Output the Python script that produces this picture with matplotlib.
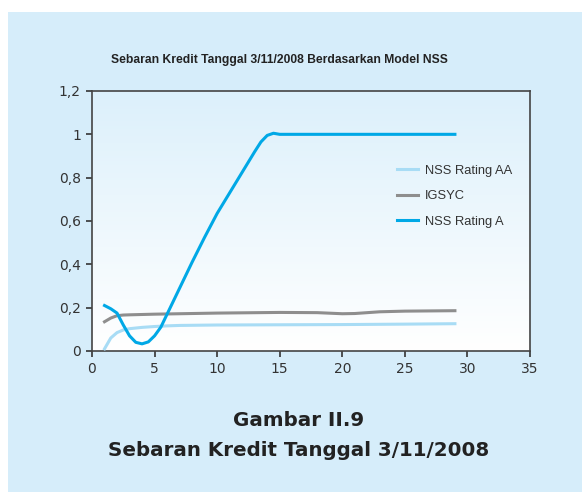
import matplotlib.pyplot as plt
import matplotlib.ticker as mticker
import numpy as np

# data
x_a = [1, 1.5, 2, 2.5, 3, 3.5, 4, 4.5, 5, 5.5, 6, 7, 8, 9, 10, 11, 12, 13, 13.5, 14, 14.5, 15, 20, 25, 29]
nss_a = [0.21, 0.195, 0.175, 0.12, 0.07, 0.04, 0.033, 0.042, 0.07, 0.11, 0.17, 0.29, 0.41, 0.525, 0.635, 0.73, 0.825, 0.92, 0.965, 0.995, 1.005, 1.0, 1.0, 1.0, 1.0]

x_aa = [1, 1.5, 2, 2.5, 3, 4, 5, 6, 7, 10, 15, 20, 25, 29]
nss_aa = [0.01, 0.06, 0.085, 0.097, 0.103, 0.109, 0.113, 0.116, 0.118, 0.12, 0.121, 0.122, 0.124, 0.126]

x_ig = [1, 1.5, 2, 2.5, 3, 5, 10, 15, 18, 20, 21, 23, 25, 29]
igsyc = [0.135, 0.152, 0.163, 0.166, 0.167, 0.17, 0.175, 0.178, 0.177, 0.172, 0.173, 0.181, 0.184, 0.186]

bg = '#d6edfa'
fig = plt.figure(figsize=(5.82, 4.92), dpi=100)
fig.patch.set_facecolor('white')
fig.patches.append(plt.Rectangle((8/582, 0), 1, 1 - 12/492, transform=fig.transFigure,
                                 facecolor=bg, edgecolor='none', zorder=-10))

ax = fig.add_axes([92/582, 1 - 351/492, 438/582, 260/492])
ax.set_facecolor('none')
# gradient background inside the axes: light blue on top, white at the bottom
grad = np.linspace(0, 1, 256).reshape(-1, 1)
ax.imshow(grad, extent=[0, 35, 0, 1.2], aspect='auto', origin='lower',
          cmap=plt.matplotlib.colors.LinearSegmentedColormap.from_list('g', ['#ffffff', '#dcf0fb']),
          zorder=0)

ax.plot(x_aa, nss_aa, color='#a8dcf5', lw=2.2, label='NSS Rating AA', zorder=3)
ax.plot(x_ig, igsyc, color='#8e8e8e', lw=2.2, label='IGSYC', zorder=3)
ax.plot(x_a, nss_a, color='#00a8e6', lw=2.2, label='NSS Rating A', zorder=4)

ax.set_xlim(0, 35)
ax.set_ylim(0, 1.2)
ax.set_xticks(range(0, 36, 5))
ax.set_yticks([0, 0.2, 0.4, 0.6, 0.8, 1.0, 1.2])
ax.yaxis.set_major_formatter(mticker.FuncFormatter(
    lambda v, p: '0' if v == 0 else ('1' if abs(v - 1) < 1e-9 else f'{v:.1f}'.replace('.', ','))))
for s in ax.spines.values():
    s.set_color('#444444')
    s.set_linewidth(1.2)
ax.tick_params(direction='out', length=4, width=1.2, color='#333333',
               labelsize=10, labelcolor='#333333', pad=4)

leg = ax.legend(loc='upper left', bbox_to_anchor=(0.696, 0.717), frameon=False,
                prop={'family': 'Liberation Sans', 'size': 9.3},
                handlelength=1.65, handletextpad=0.5, labelspacing=1.05,
                borderaxespad=0, borderpad=0)
for t in leg.get_texts():
    t.set_color('#333333')

fig.text(279/582, 1 - 60/492, 'Sebaran Kredit Tanggal 3/11/2008 Berdasarkan Model NSS',
         ha='center', va='center', fontsize=8.7, fontweight='bold', color='#222222',
         family='Liberation Sans')
fig.text(299/582, 1 - 421/492, 'Gambar II.9', ha='center', va='center',
         fontsize=14.3, fontweight='bold', color='#222222')
fig.text(299/582, 1 - 451/492, 'Sebaran Kredit Tanggal 3/11/2008', ha='center', va='center',
         fontsize=14.3, fontweight='bold', color='#222222')

fig.savefig('out.png', dpi=100, facecolor=fig.get_facecolor())
